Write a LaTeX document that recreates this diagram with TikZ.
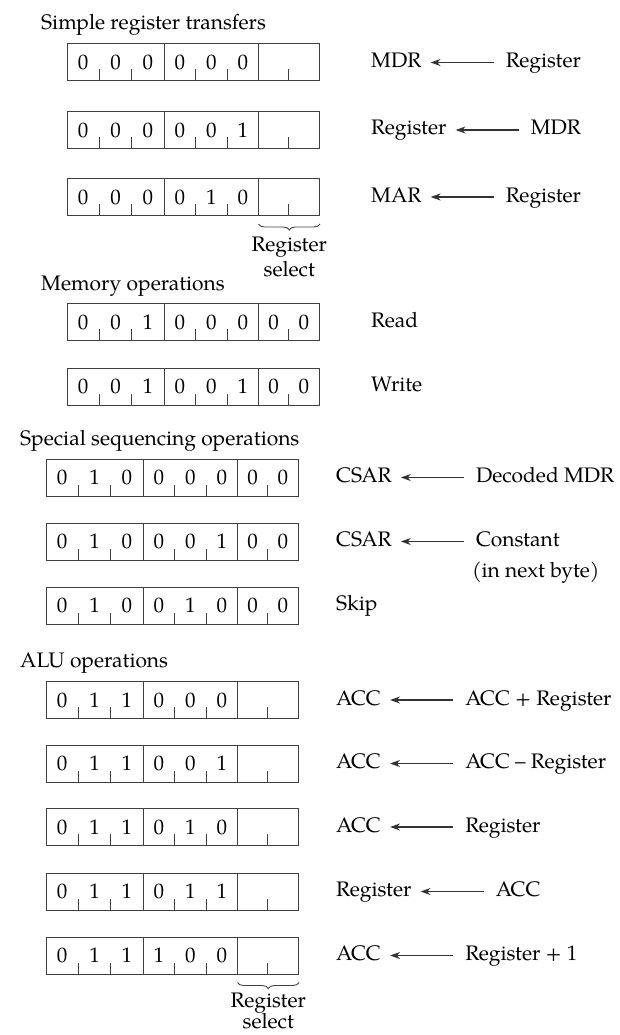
\documentclass[tikz,border=0pt]{standalone}
\usepackage{fontspec}
\setmainfont{TeX Gyre Pagella}
\usetikzlibrary{arrows.meta,calc,positioning,decorations.pathreplacing}

\tikzset{
  word/.style={draw=black!75, line width=1pt, minimum width=252pt, minimum height=37pt, inner sep=0pt, anchor=west},
  rule/.style={draw=black!75, line width=.9pt},
  op/.style={inner sep=0pt, anchor=west, text height=14pt, text depth=4pt},
  xfer/.style={-{Stealth[length=10pt,width=7pt]}, line width=1.6pt, black!80, shorten <=12pt, shorten >=9pt},
  selbrace/.style={rule, decorate, decoration={brace, amplitude=6pt}},
}

% one 8-bit control word: name, left-centre point, bits that are given
\newcommand{\ctlword}[3]{%
  \node[word] (#1) at (#2) {};
  \draw[rule] ($(#1.south west)+(97,0)$) -- ($(#1.north west)+(97,0)$)
              ($(#1.south west)+(191.5,0)$) -- ($(#1.north west)+(191.5,0)$);
  \foreach \t in {32.3,64.7,128.5,160,221.5}
    \draw[rule] ($(#1.south west)+(\t,0)$) -- ++(0,-12);
  \foreach \b [count=\i] in {#3}{
    \pgfmathsetmacro\cx{{16.2,48.5,80.8,112.8,144.3,175.8,206.5,236.8}[\i-1]}
    \node[inner sep=0pt] at ($(#1.west)+(\cx,0)$) {\b};
  }%
}

\begin{document}
\begin{tikzpicture}[x=1pt, y=-1pt, font=\fontsize{21}{25}\selectfont, node distance=84pt]
  \useasboundingbox (0,0) rectangle (619,1035);

  % Simple register transfers.
  \node[op] (hsimple) at (41,25) {Simple register transfers};
  \ctlword{srt1}{67,62.5}{0,0,0,0,0,0}
  \ctlword{srt2}{67,130}{0,0,0,0,0,1}
  \ctlword{srt3}{67,197}{0,0,0,0,1,0}
  \node[op] (mdr1) at (371,62.5) {MDR};
  \node[op, right=of mdr1] (reg1) {Register};
  \draw[xfer] (reg1) -- (mdr1);
  \node[op] (reg2) at (371,130) {Register};
  \node[op, right=of reg2] (mdr2) {MDR};
  \draw[xfer] (mdr2) -- (reg2);
  \node[op] (mar3) at (371,197) {MAR};
  \node[op, right=of mar3] (reg3) {Register};
  \draw[xfer] (reg3) -- (mar3);
  \coordinate (selL1) at ($(srt3.south west)+(191.5,8)$);
  \coordinate (selR1) at ($(srt3.south east)+(0,8)$);
  \draw[selbrace] (selR1) -- (selL1);
  \node[align=center, inner sep=0pt, anchor=north] (sel1) at ($(selL1)!.5!(selR1)+(0,13)$) {Register\\select};

  % Memory operations.
  \node[op] (hmem) at (41,285) {Memory operations};
  \ctlword{mem1}{67,322}{0,0,1,0,0,0,0,0}
  \ctlword{mem2}{67,386.5}{0,0,1,0,0,1,0,0}
  \node[op] (read) at (371,322) {Read};
  \node[op] (write) at (371,386.5) {Write};

  % Special sequencing operations.
  \node[op] (hseq) at (20,440) {Special sequencing operations};
  \ctlword{seq1}{46,477.5}{0,1,0,0,0,0,0,0}
  \ctlword{seq2}{46,541.5}{0,1,0,0,0,1,0,0}
  \ctlword{seq3}{46,605.5}{0,1,0,0,1,0,0,0}
  \node[op] (csar1) at (336,477.5) {CSAR};
  \node[op, right=of csar1] (dmdr) {Decoded MDR};
  \draw[xfer] (dmdr) -- (csar1);
  \node[op] (csar2) at (336,541.5) {CSAR};
  \node[op, right=of csar2] (const) {Constant};
  \draw[xfer] (const) -- (csar2);
  \node[op] (cnote) at ($(const.west)+(-4,30.5)$) {(in next byte)};
  \node[op] (skip) at (336,605.5) {Skip};

  % ALU operations.
  \node[op] (halu) at (20,662) {ALU operations};
  \ctlword{alu1}{46,700}{0,1,1,0,0,0}
  \ctlword{alu2}{46,763.5}{0,1,1,0,0,1}
  \ctlword{alu3}{46,827}{0,1,1,0,1,0}
  \ctlword{alu4}{46,891.5}{0,1,1,0,1,1}
  \ctlword{alu5}{46,955.5}{0,1,1,1,0,0}
  \node[op] (acc1) at (336,700) {ACC};
  \node[op, right=of acc1] (sum) {ACC + Register};
  \draw[xfer] (sum) -- (acc1);
  \node[op] (acc2) at (336,763.5) {ACC};
  \node[op, right=of acc2] (diff) {ACC -- Register};
  \draw[xfer] (diff) -- (acc2);
  \node[op] (acc3) at (336,827) {ACC};
  \node[op, right=of acc3] (reg4) {Register};
  \draw[xfer] (reg4) -- (acc3);
  \node[op] (reg5) at (336,891.5) {Register};
  \node[op, right=of reg5] (acc4) {ACC};
  \draw[xfer] (acc4) -- (reg5);
  \node[op] (acc5) at (336,955.5) {ACC};
  \node[op, right=of acc5] (inc) {Register + 1};
  \draw[xfer] (inc) -- (acc5);
  \coordinate (selL2) at ($(alu5.south west)+(191.5,8)$);
  \coordinate (selR2) at ($(alu5.south east)+(0,8)$);
  \draw[selbrace] (selR2) -- (selL2);
  \node[align=center, inner sep=0pt, anchor=north] (sel2) at ($(selL2)!.5!(selR2)+(0,10)$) {Register\\[-4pt]select};
\end{tikzpicture}
\end{document}
